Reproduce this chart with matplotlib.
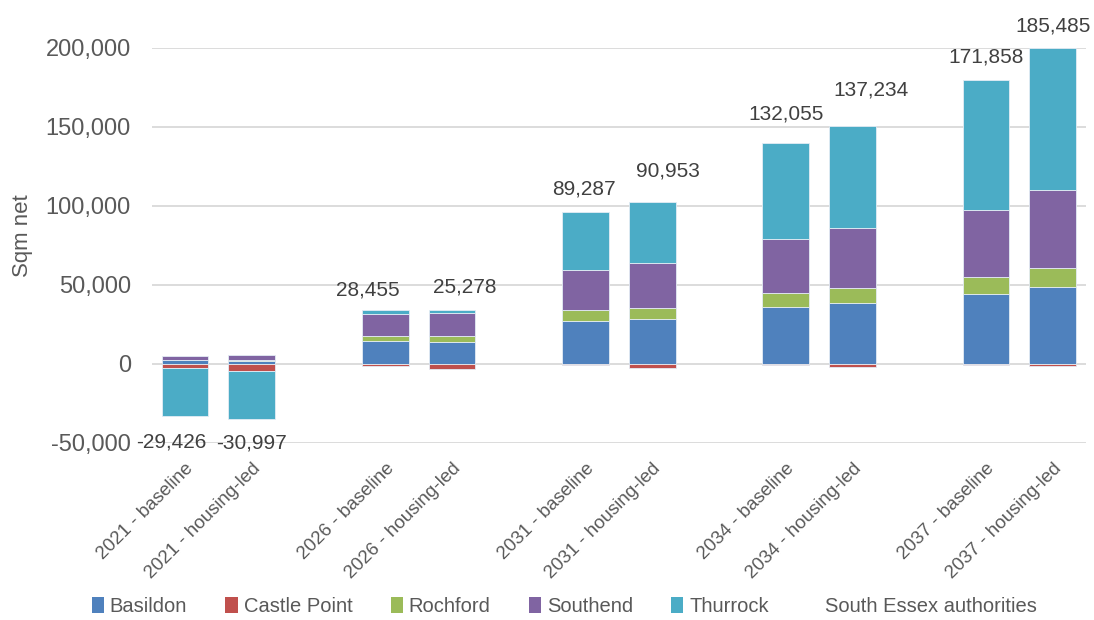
import numpy as np
import matplotlib
matplotlib.use("Agg")
import matplotlib.pyplot as plt
from matplotlib.patches import Patch
from matplotlib.lines import Line2D

plt.rcParams['font.family'] = ['Liberation Sans', 'DejaVu Sans']

# --- Dados ---
categories = ["2021 - baseline", "2021 - housing-led",
              "2026 - baseline", "2026 - housing-led",
              "2031 - baseline", "2031 - housing-led",
              "2034 - baseline", "2034 - housing-led",
              "2037 - baseline", "2037 - housing-led"]

basildon = [2300, 1600, 14700, 14100, 27100, 28700, 36100, 38800, 44500, 49000]
castle_point = [-2700, -4400, -1200, -3300, -800, -2400, -500, -2000, -400, -1000]
rochford = [300, 900, 3200, 3800, 7000, 6600, 8800, 9100, 10800, 11700]
southend = [2600, 3000, 13900, 14600, 25300, 28400, 34000, 38400, 42200, 49300]
thurrock = [-30400, -30200, 2600, 1900, 36700, 38600, 60800, 64300, 82200, 90000]

south_essex_total = [-29426, -30997, 28455, 25278, 89287, 90953,
                     132055, 137234, 171858, 185485]

series_names = ["Basildon", "Castle Point", "Rochford", "Southend", "Thurrock"]
series_values = [basildon, castle_point, rochford, southend, thurrock]
colors = ["#4F81BD", "#C0504D", "#9BBB59", "#8064A2", "#4BACC6"]

# posição dos rótulos de total (ajustados manualmente no original)
label_dx = [-0.21, -0.01, -0.26, 0.19, -0.03, 0.23, 0.0, 0.28, 0.0, 0.0]
label_y = [-49400, -50000, 46800, 48700, 110800, 122200,
           158500, 173400, 194300, 213900]

# categorias com um espaço vazio entre cada ano
x = np.array([(i // 2) * 3 + (i % 2) for i in range(len(categories))], dtype=float)

fig = plt.figure(figsize=(10.94, 6.2), dpi=100)
ax = fig.add_axes([0.1386, 0.2855, 0.8541, 0.6371])

pos_bottom = np.zeros(len(categories))
neg_bottom = np.zeros(len(categories))
for name, vals, col in zip(series_names, series_values, colors):
    vals = np.array(vals, dtype=float)
    bottom = np.where(vals >= 0, pos_bottom, neg_bottom)
    ax.bar(x, vals, width=0.7, bottom=bottom, color=col,
           edgecolor="#e4ecf4", linewidth=0.6, zorder=3)
    pos_bottom += np.clip(vals, 0, None)
    neg_bottom += np.clip(vals, None, 0)

for xi, dx, ly, total in zip(x, label_dx, label_y, south_essex_total):
    ax.text(xi + dx, ly, f"{total:,}", ha="center", va="center",
            fontsize=15, color="#404040", clip_on=False, zorder=5)

ax.set_xlim(-0.5, 13.5)
ax.set_ylim(-50000, 200000)
ax.set_yticks(np.arange(-50000, 200001, 50000))
ax.set_yticklabels([f"{v:,}" for v in np.arange(-50000, 200001, 50000)])
ax.yaxis.grid(True, color="#D9D9D9", linewidth=1.3, zorder=0)
ax.set_axisbelow(True)

ax.set_xticks(x)
ax.set_xticklabels(categories, rotation=45, ha="right", va="top",
                   rotation_mode="anchor", fontsize=13.5, color="#595959")
ax.tick_params(axis="x", length=0, pad=12)
ax.tick_params(axis="y", length=0, pad=15, labelsize=17, labelcolor="#595959")
for s in ax.spines.values():
    s.set_visible(False)

fig.text(0.021, 0.62, "Sqm net", rotation=90, ha="center", va="center",
         fontsize=16, color="#595959")

handles = [Patch(facecolor=c, edgecolor="none") for c in colors]
handles.append(Line2D([], [], linestyle="none"))
fig.legend(handles, series_names + ["South Essex authorities"],
           loc="center", bbox_to_anchor=(0.516, 0.022), ncol=6, frameon=False,
           fontsize=14.5, handlelength=0.6, handleheight=0.9, handletextpad=0.3,
           columnspacing=1.9, labelcolor="#595959", borderpad=0.1)

fig.savefig("out.png", dpi=100)
